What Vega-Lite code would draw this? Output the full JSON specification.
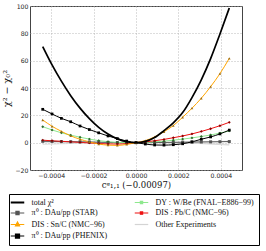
{
  "$schema": "https://vega.github.io/schema/vega-lite/v6.json",
  "width": 212,
  "height": 164,
  "autosize": {"type": "none"},
  "padding": {"left": 30, "top": 6, "right": 24, "bottom": 81},
  "background": "white",
  "config": {
    "view": {"stroke": "#444", "strokeWidth": 1},
    "axis": {"domain": false, "ticks": false, "gridColor": "#aaa", "gridDash": [1, 2], "gridWidth": 0.8,
      "labelFont": "DejaVu Sans", "labelFontSize": 6.2, "labelColor": "#222", "titleColor": "#111"}
  },
  "datasets": {
    "main": [
      {"x": -0.00044, "tot": 70.3, "star": 1.0, "sn": 16.6, "phen": 24.4, "dy": 11.7, "pb": 1.8, "o1": -1.2, "o2": 1.5, "o3": 0.3},
      {"x": -0.000396, "tot": 56.9, "star": 0.9, "sn": 12, "phen": 21, "dy": 9.3, "pb": 1.4, "o1": -1.0, "o2": 1.2, "o3": 0.25},
      {"x": -0.000352, "tot": 45.0, "star": 0.8, "sn": 8.3, "phen": 17.8, "dy": 7.2, "pb": 1.0, "o1": -0.8, "o2": 1.0, "o3": 0.2},
      {"x": -0.000308, "tot": 34.4, "star": 0.7, "sn": 5, "phen": 15.3, "dy": 5.5, "pb": 0.6, "o1": -0.6, "o2": 0.8, "o3": 0.15},
      {"x": -0.000264, "tot": 25.3, "star": 0.6, "sn": 2.5, "phen": 12.2, "dy": 4, "pb": 0.2, "o1": -0.45, "o2": 0.6, "o3": 0.1},
      {"x": -0.00022, "tot": 17.6, "star": 0.5, "sn": 0.6, "phen": 9.6, "dy": 2.6, "pb": -0.2, "o1": -0.3, "o2": 0.4, "o3": 0.05},
      {"x": -0.000176, "tot": 11.2, "star": 0.35, "sn": -1, "phen": 7.2, "dy": 1.5, "pb": -0.6, "o1": -0.2, "o2": 0.25, "o3": 0.02},
      {"x": -0.000132, "tot": 6.3, "star": 0.2, "sn": -1.8, "phen": 4.9, "dy": 0.7, "pb": -0.9, "o1": -0.1, "o2": 0.15, "o3": 0},
      {"x": -0.000088, "tot": 2.8, "star": 0.1, "sn": -2, "phen": 3.0, "dy": 0.2, "pb": -1.0, "o1": -0.05, "o2": 0.05, "o3": 0},
      {"x": -0.000044, "tot": 0.7, "star": 0.03, "sn": -1.3, "phen": 1.2, "dy": 0, "pb": -0.7, "o1": 0, "o2": 0.01, "o3": 0},
      {"x": 0, "tot": 0, "star": 0, "sn": 0, "phen": 0, "dy": 0, "pb": 0, "o1": 0, "o2": 0, "o3": 0},
      {"x": 0.000044, "tot": 0.9, "star": 0.05, "sn": 1.5, "phen": -1, "dy": 0.2, "pb": 0.6, "o1": 0, "o2": 0.01, "o3": 0},
      {"x": 0.000088, "tot": 3.7, "star": 0.1, "sn": 4.3, "phen": -1.7, "dy": 0.6, "pb": 1.4, "o1": -0.05, "o2": 0.05, "o3": -0.05},
      {"x": 0.000132, "tot": 8.8, "star": 0.2, "sn": 8, "phen": -1.8, "dy": 1.1, "pb": 2.4, "o1": -0.1, "o2": 0.1, "o3": -0.1},
      {"x": 0.000176, "tot": 14.5, "star": 0.25, "sn": 12.5, "phen": -1.5, "dy": 1.8, "pb": 3.6, "o1": -0.2, "o2": 0.2, "o3": -0.2},
      {"x": 0.00022, "tot": 22, "star": 0.35, "sn": 18.6, "phen": -0.8, "dy": 2.6, "pb": 4.9, "o1": -0.3, "o2": 0.3, "o3": -0.35},
      {"x": 0.000264, "tot": 33, "star": 0.45, "sn": 25.2, "phen": 0.6, "dy": 3.5, "pb": 6.4, "o1": -0.45, "o2": 0.4, "o3": -0.5},
      {"x": 0.000308, "tot": 46, "star": 0.5, "sn": 32.5, "phen": 2.5, "dy": 4.5, "pb": 8.2, "o1": -0.6, "o2": 0.5, "o3": -0.7},
      {"x": 0.000352, "tot": 61.5, "star": 0.6, "sn": 41, "phen": 4.2, "dy": 5.6, "pb": 10.2, "o1": -0.8, "o2": 0.7, "o3": -1.0},
      {"x": 0.000396, "tot": 79.5, "star": 0.7, "sn": 50.5, "phen": 6.4, "dy": 7, "pb": 12.4, "o1": -1.0, "o2": 0.9, "o3": -1.4},
      {"x": 0.00044, "tot": 98.5, "star": 0.8, "sn": 61.7, "phen": 9.2, "dy": 8.6, "pb": 14.9, "o1": -1.3, "o2": 1.1, "o3": -1.8}
    ]
  },
  "data": {"name": "main"},
  "encoding": {
    "x": {"field": "x", "type": "quantitative",
      "scale": {"domain": [-0.0005, 0.0005], "nice": false, "zero": false},
      "axis": {"values": [-0.0004, -0.0002, 0, 0.0002, 0.0004], "format": ".4f", "labelPadding": 2,
        "title": "cᵍ₁,₁ (−0.00097)", "titleFont": "DejaVu Serif", "titleFontSize": 8.5, "titleFontWeight": "normal", "titlePadding": 2}},
    "y": {"field": "v", "type": "quantitative",
      "scale": {"domain": [-20, 100], "nice": false},
      "axis": {"values": [-20, 0, 20, 40, 60, 80, 100], "labelPadding": 2,
        "title": "χ² − χ₀²", "titleFont": "DejaVu Serif", "titleFontSize": 9.5, "titleFontWeight": "normal", "titlePadding": 3}}
  },
  "layer": [
    {
      "transform": [{"fold": ["o1", "o2", "o3"], "as": ["g", "v"]}],
      "mark": {"type": "line", "strokeWidth": 0.8, "interpolate": "monotone"},
      "encoding": {
        "detail": {"field": "g", "type": "nominal"},
        "color": {"datum": "oth", "type": "nominal",
          "scale": {"domain": ["tot", "star", "sn", "phen", "dy", "pb", "oth"],
            "range": ["#000000", "#555555", "#ffa500", "#000000", "#8ee88e", "#ee1111", "#d4d4d4"]}}
      }
    },
    {
      "transform": [{"fold": ["star", "dy", "pb", "phen", "sn"], "as": ["s", "v"]}],
      "mark": {"type": "line", "strokeWidth": 1, "interpolate": "monotone"},
      "encoding": {
        "color": {"field": "s", "type": "nominal",
          "scale": {"domain": ["tot", "star", "sn", "phen", "dy", "pb", "oth"],
            "range": ["#000000", "#555555", "#ffa500", "#000000", "#8ee88e", "#ee1111", "#d4d4d4"]},
          "legend": {
            "orient": "none", "legendX": -21, "legendY": 188, "columns": 2, "title": null, "direction": "vertical",
            "strokeColor": "#000", "fillColor": "white", "padding": 4.5, "rowPadding": 2.5, "columnPadding": 22,
            "symbolType": "stroke", "symbolSize": 81, "symbolStrokeWidth": 1.2, "labelOffset": 10,
            "labelFont": "Liberation Serif", "labelFontSize": 8, "labelLimit": 300, "labelColor": "#111",
            "labelExpr": "{'tot': 'total  χ²', 'star': 'π⁰ :  DAu/pp (STAR)', 'sn': 'DIS : Sn/C (NMC−96)', 'phen': 'π⁰ :  DAu/pp (PHENIX)', 'dy': 'DY : W/Be (FNAL−E886−99)', 'pb': 'DIS : Pb/C (NMC−96)', 'oth': 'Other Experiments'}[datum.label]",
            "encode": {"symbols": {"update": {
              "shape": {"signal": "datum.value == 'sn' ? 'M-1.5,0H1.5M0,-0.55L0.45,0.3H-0.45Z' : datum.value == 'phen' ? 'M-1.5,0H1.5M-0.45,-0.45H0.45V0.45H-0.45Z' : datum.value == 'star' ? 'M-1.5,0H1.5M-0.35,-0.35H0.35V0.35H-0.35Z' : (datum.value == 'dy' || datum.value == 'pb') ? 'M-1.5,0H1.5M-0.25,-0.25H0.25V0.25H-0.25Z' : 'M-1.5,0H1.5'"},
              "fill": {"signal": "{'tot': '#000', 'star': '#555', 'sn': '#9a6b12', 'phen': '#000', 'dy': '#2e6b2e', 'pb': '#8b0000', 'oth': '#d4d4d4'}[datum.value]"},
              "strokeWidth": {"signal": "datum.value == 'tot' ? 2 : 1.2"}
            }}}
          }}
      }
    },
    {
      "transform": [{"fold": ["star", "dy", "pb", "phen", "sn"], "as": ["s", "v"]}],
      "mark": {"type": "point", "filled": true, "opacity": 1},
      "encoding": {
        "shape": {"field": "s", "type": "nominal", "legend": null,
          "scale": {"domain": ["star", "dy", "pb", "phen", "sn"], "range": ["square", "diamond", "diamond", "square", "triangle-up"]}},
        "fill": {"field": "s", "type": "nominal", "legend": null,
          "scale": {"domain": ["star", "dy", "pb", "phen", "sn"], "range": ["#555555", "#2e6b2e", "#8b0000", "#000000", "#9a6b12"]}},
        "size": {"field": "s", "type": "nominal", "legend": null,
          "scale": {"domain": ["star", "dy", "pb", "phen", "sn"], "range": [9, 7, 7, 16, 14]}}
      }
    },
    {
      "transform": [{"fold": ["tot"], "as": ["s", "v"]}],
      "mark": {"type": "line", "strokeWidth": 1.7, "interpolate": "monotone"},
      "encoding": {
        "color": {"field": "s", "type": "nominal",
          "scale": {"domain": ["tot", "star", "sn", "phen", "dy", "pb", "oth"],
            "range": ["#000000", "#555555", "#ffa500", "#000000", "#8ee88e", "#ee1111", "#d4d4d4"]}}
      }
    }
  ]
}
